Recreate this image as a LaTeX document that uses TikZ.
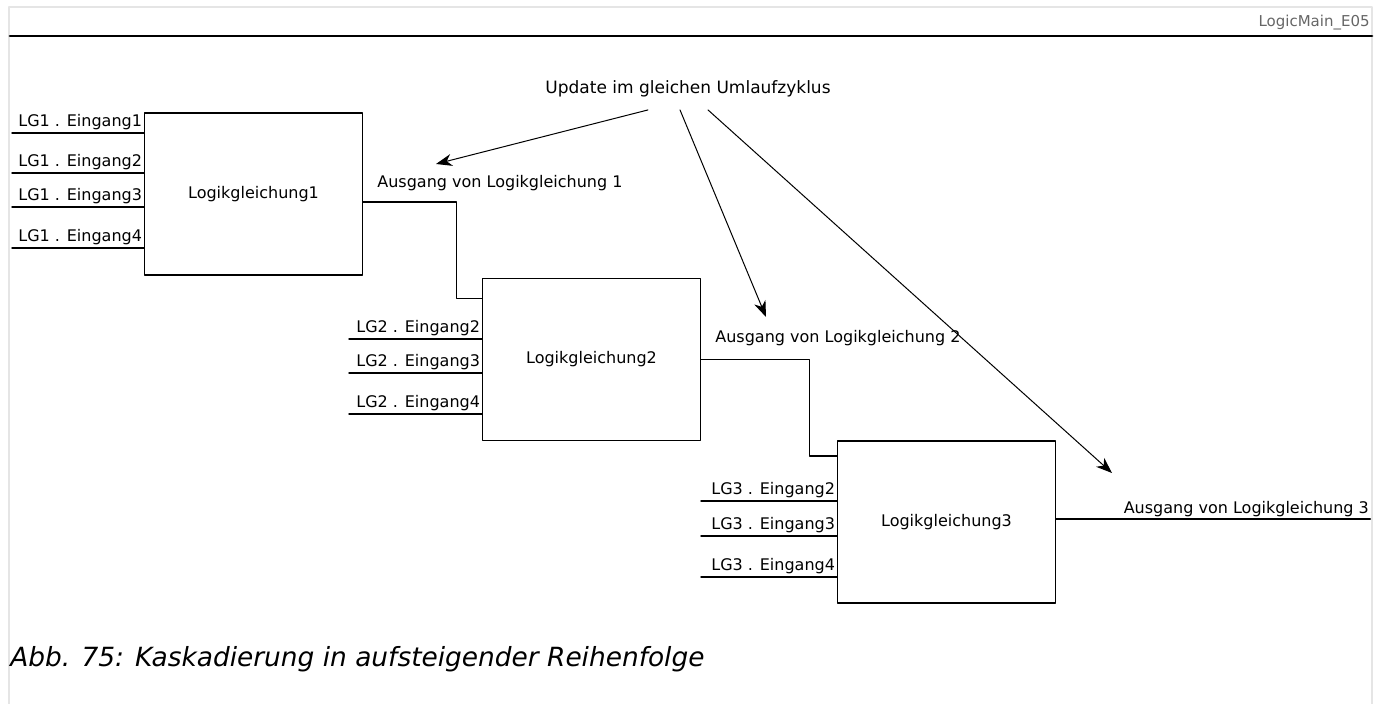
\documentclass[tikz,border=0pt]{standalone}
\usepackage{fontspec}
\setmainfont{DejaVu Sans}
\usetikzlibrary{arrows.meta,positioning}

\begin{document}
\begin{tikzpicture}[line cap=round,line join=round,>={Stealth[length=8pt,width=6pt,inset=2.5pt]},x=0.5pt,y=-0.5pt,
		block/.style={draw,line width=0.75pt,minimum width=109pt,minimum height=81pt,inner sep=0pt,font=\fontsize{8}{10}\selectfont},
		lbl/.style={font=\fontsize{8}{10}\selectfont,inner xsep=0.5pt,inner ysep=1pt},
		wire/.style={line width=0.75pt}]
		\useasboundingbox (0,0) rectangle (1383,704);

		% Rahmen und Kopfzeile
		\draw[black!10,line width=0.8pt] (9,704) -- (9,7) -- (1372,7) -- (1372,704);
		\draw[line width=1.35pt] (10,36) -- (1372,36);
		\node[anchor=base east,inner sep=0pt,text=black!60,font=\fontsize{7.5}{9}\selectfont] (kopf) at (1370,27) {LogicMain\_E05};

		% Logikgleichungen
		\node[block] (lg1) at (253.5,194) {Logikgleichung1};
		\node[block] (lg2) at (591.5,359.5) {Logikgleichung2};
		\node[block] (lg3) at (946.5,522) {Logikgleichung3};

		% Eingaenge
		\foreach \n/\y in {1/133,2/173,3/207,4/248}{
			\coordinate (lg1e\n) at (12,\y);
			\draw[wire] (lg1e\n) -- (lg1e\n -| lg1.west) node[lbl,pos=1,above left] {LG1 . Eingang\n};
		}
		\foreach \n/\y in {2/339,3/373,4/414}{
			\coordinate (lg2e\n) at (349,\y);
			\draw[wire] (lg2e\n) -- (lg2e\n -| lg2.west) node[lbl,pos=1,above left] {LG2 . Eingang\n};
		}
		\foreach \n/\y in {2/501,3/536,4/577}{
			\coordinate (lg3e\n) at (701,\y);
			\draw[wire] (lg3e\n) -- (lg3e\n -| lg3.west) node[lbl,pos=1,above left] {LG3 . Eingang\n};
		}

		% Kaskade
		\draw[wire] ([yshift=-4pt]lg1.east) -- ++(93,0) |- ([yshift=-10.5pt]lg2.north west);
		\draw[wire] (lg2.east) -- ++(108,0) |- ([yshift=-8pt]lg3.north west);
		\draw[wire] ([yshift=1.5pt]lg3.east) -- ++(314,0) coordinate (aus3);

		% Ausgaenge
		\node[lbl,anchor=base west,inner sep=0pt] (a1) at (377,188) {Ausgang von Logikgleichung 1};
		\node[lbl,anchor=base west,inner sep=0pt] (a2) at (715,343) {Ausgang von Logikgleichung 2};
		\node[lbl,anchor=south east,inner xsep=0.5pt] (a3) at (aus3) {Ausgang von Logikgleichung 3};

		% Update
		\node[lbl,anchor=base,font=\fontsize{8.5}{10}\selectfont] (upd) at (688,94) {Update im gleichen Umlaufzyklus};
		\coordinate (z1) at (436,164);
		\coordinate (z2) at (766,317);
		\coordinate (z3) at (1112,473);
		\draw[->,line width=0.5pt] ([xshift=-20pt,yshift=-5pt]upd.south) -- (z1);
		\draw[->,line width=0.5pt] ([xshift=-4pt,yshift=-5pt]upd.south) -- (z2);
		\draw[->,line width=0.5pt] ([xshift=10pt,yshift=-5pt]upd.south) -- (z3);

		\node[anchor=base west,inner sep=0pt,font=\fontsize{13.2}{15}\selectfont\itshape] (abb) at (10,667) {Abb. 75: Kaskadierung in aufsteigender Reihenfolge};
	\end{tikzpicture}
\end{document}
